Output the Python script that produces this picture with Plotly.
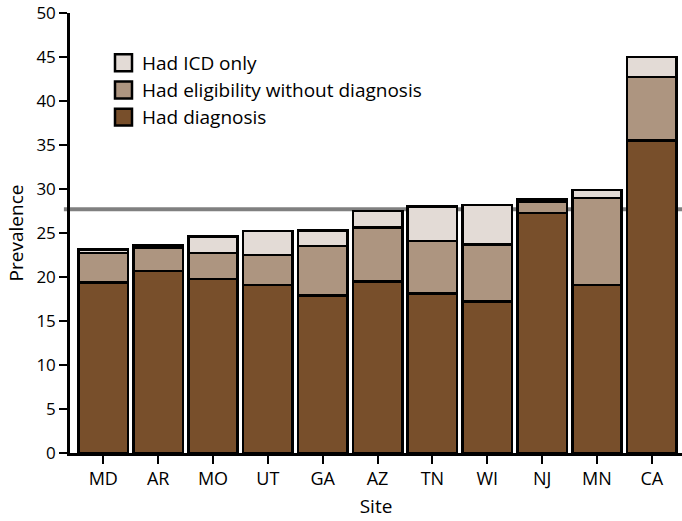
import plotly.graph_objects as go

sites = ["MD", "AR", "MO", "UT", "GA", "AZ", "TN", "WI", "NJ", "MN", "CA"]
had_diagnosis = [19.4, 20.7, 19.8, 19.1, 17.9, 19.5, 18.1, 17.2, 27.3, 19.1, 35.5]
had_eligibility = [3.3, 2.6, 2.9, 3.4, 5.6, 6.1, 6.0, 6.5, 1.2, 9.9, 7.2]
had_icd_only = [0.4, 0.3, 1.9, 2.7, 1.8, 1.9, 3.9, 4.5, 0.3, 0.9, 2.3]
overall_prevalence = 27.7
legend_labels = ["Had ICD only", "Had eligibility without diagnosis", "Had diagnosis"]

c_diag = "#784f2b"
c_elig = "#ad9580"
c_icd = "#e3dbd6"
font_family = "Open Sans, Noto Sans, sans-serif"

fig = go.Figure()
for name, vals, col in [
    ("Had diagnosis", had_diagnosis, c_diag),
    ("Had eligibility without diagnosis", had_eligibility, c_elig),
    ("Had ICD only", had_icd_only, c_icd),
]:
    fig.add_trace(go.Bar(
        x=sites, y=vals, name=name,
        marker=dict(color=col, line=dict(color="black", width=2.5)),
        showlegend=False,
    ))

fig.add_shape(type="line", xref="paper", yref="y", x0=-0.01, x1=1, y0=overall_prevalence,
              y1=overall_prevalence, line=dict(color="#808080", width=4), layer="below")

# manual legend (positions relative to plot area: left 70px, bottom 453px, 612x440.3)
leg_cols = [c_icd, c_elig, c_diag]
for i, (lab, col) in enumerate(zip(legend_labels, leg_cols)):
    yc = 62.5 + i * 27.2
    fig.add_shape(type="rect", xref="paper", yref="paper",
                  x0=(115 - 70) / 612, x1=(132 - 70) / 612,
                  y0=(453 - (yc + 8.5)) / 440.3, y1=(453 - (yc - 8.5)) / 440.3,
                  fillcolor=col, line=dict(color="black", width=2.5))
    fig.add_annotation(x=(140 - 70) / 612, y=(453 - yc) / 440.3, xref="paper", yref="paper",
                       text=lab, showarrow=False, xanchor="left", yanchor="middle",
                       font=dict(size=19, color="black", family=font_family))

fig.update_layout(
    barmode="stack",
    bargap=0.1,
    width=682, height=521,
    margin=dict(l=70, r=0, t=12.7, b=68, autoexpand=False),
    plot_bgcolor="white", paper_bgcolor="white",
    font=dict(family=font_family, size=17, color="black"),
    xaxis=dict(
        range=[-0.607, 10.55], showline=True, linecolor="black", linewidth=2.5,
        ticks="outside", ticklen=8, tickwidth=2, tickcolor="black",
        tickfont=dict(size=18), automargin=False,
        title=dict(text="Site", standoff=11, font=dict(size=19)),
        showgrid=False, zeroline=False,
    ),
    yaxis=dict(
        range=[0, 50], dtick=5, showline=True, linecolor="black", linewidth=2.5,
        ticks="outside", ticklen=8, tickwidth=2, tickcolor="black",
        ticklabeloverflow="allow", automargin=False,
        title=dict(text="Prevalence", standoff=8, font=dict(size=19)),
        showgrid=False, zeroline=False,
    ),
)

fig.write_html("out.html", config={"displayModeBar": False},
               post_script="document.body.style.margin='0';")
